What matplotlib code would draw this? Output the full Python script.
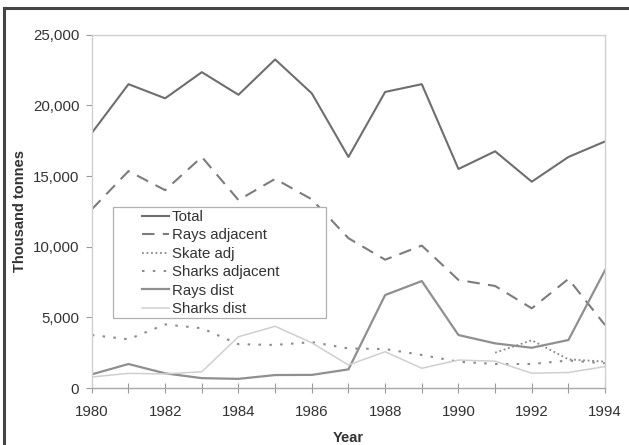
import numpy as np
import matplotlib
matplotlib.use("Agg")
import matplotlib.pyplot as plt
from matplotlib.patches import Rectangle
from matplotlib.lines import Line2D

plt.rcParams["font.family"] = ["Liberation Sans", "DejaVu Sans"]

years = list(range(1980, 1995))
total = [18050, 21500, 20500, 22350, 20750, 23250, 20850, 16350, 20950, 21500, 15500, 16750, 14600, 16350, 17450]
rays_adjacent = [12650, 15350, 14000, 16350, 13300, 14800, 13350, 10600, 9080, 10080, 7650, 7220, 5640, 7720, 4450]
skate_adj = [np.nan] * 11 + [2500, 3380, 2030, 1870]
sharks_adjacent = [3750, 3450, 4500, 4230, 3100, 3050, 3250, 2800, 2760, 2340, 1860, 1700, 1700, 1950, 1750]
rays_dist = [970, 1700, 1040, 700, 650, 920, 930, 1320, 6580, 7570, 3750, 3160, 2850, 3400, 8350]
sharks_dist = [780, 1040, 1000, 1150, 3630, 4370, 3200, 1630, 2570, 1400, 1980, 1900, 1050, 1100, 1520]

fig = plt.figure(figsize=(6.29, 4.45), dpi=100)
ax = fig.add_axes([0.146, 0.128, 0.816, 0.794])

ax.plot(years, total, color="#6e6e6e", lw=1.5, label="Total")
ax.plot(years, rays_adjacent, color="#7c7c7c", lw=1.5, ls=(0, (6, 4)), label="Rays adjacent")
ax.plot(years, skate_adj, color="#8a8a8a", lw=1.3, ls=(0, (1, 1.5)), label="Skate adj")
ax.plot(years, sharks_adjacent, color="#8c8c8c", lw=1.5, ls=(0, (1.2, 4)), label="Sharks adjacent")
ax.plot(years, rays_dist, color="#8f8f8f", lw=1.6, label="Rays dist")
ax.plot(years, sharks_dist, color="#cfcfcf", lw=1.1, label="Sharks dist")

ax.set_xlim(1980, 1994)
ax.set_ylim(0, 25000)
ax.set_xticks(years)
ax.set_xticklabels([str(y) if y % 2 == 0 else "" for y in years])
ax.set_yticks(range(0, 25001, 5000))
ax.set_yticklabels([f"{v:,}" for v in range(0, 25001, 5000)])
ax.tick_params(axis="x", direction="inout", length=7, color="#9a9a9a", labelsize=10.8, labelcolor="#333333", pad=9)
ax.tick_params(axis="y", direction="out", length=4, color="#9a9a9a", labelsize=10.8, labelcolor="#333333", pad=5)

for side in ["left", "right", "top"]:
    ax.spines[side].set_color("#d0d0d0")
    ax.spines[side].set_linewidth(1.0)
ax.spines["bottom"].set_color("#a8a8a8")
ax.spines["bottom"].set_linewidth(1.0)

ax.set_xlabel("Year", fontsize=10.5, fontweight="bold", color="#333333", labelpad=8)
ax.set_ylabel("Thousand tonnes", fontsize=10.5, fontweight="bold", color="#333333", labelpad=4)

# legend box drawn separately (wide side padding like the original)
ax.add_patch(Rectangle((0.041, 0.198), 0.415, 0.314, transform=ax.transAxes, fill=True,
                       facecolor="white", edgecolor="#b0b0b0", lw=0.9, zorder=4))
leg = ax.legend(loc="upper left", bbox_to_anchor=(0.092, 0.512), fontsize=10.8, frameon=False,
                handlelength=1.8, handletextpad=0.2, labelspacing=0.29,
                borderpad=0.2, borderaxespad=0)
leg.set_zorder(5)
for t in leg.get_texts():
    t.set_color("#333333")

# scanned figure border (dark left and top edges)
fig.add_artist(Line2D([0.006, 0.006], [0.0, 0.982], transform=fig.transFigure, color="#444444", lw=2.2))
fig.add_artist(Line2D([0.006, 1.0], [0.982, 0.982], transform=fig.transFigure, color="#444444", lw=2.2))

fig.savefig("out.png", dpi=100)
